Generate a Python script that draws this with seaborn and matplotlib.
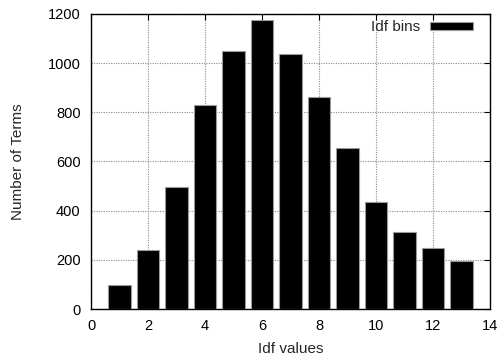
import matplotlib
matplotlib.use("Agg")
import matplotlib.pyplot as plt
import seaborn as sns
import pandas as pd

# Term counts per idf bin
idf_values = [1, 2, 3, 4, 5, 6, 7, 8, 9, 10, 11, 12, 13]
term_counts = [98, 239, 496, 829, 1049, 1176, 1037, 862, 655, 434, 312, 250, 194]
x_ticks = [0, 2, 4, 6, 8, 10, 12, 14]
y_ticks = [0, 200, 400, 600, 800, 1000, 1200]

df = pd.DataFrame({"idf": idf_values, "terms": term_counts})

sns.set_theme(style="white")
plt.rcParams["font.family"] = ["Liberation Sans", "DejaVu Sans"]

fig = plt.figure(figsize=(5.02, 3.56), dpi=100)
ax = fig.add_axes([0.1813, 0.132, 0.7948, 0.8287])

sns.barplot(data=df, x="idf", y="terms", native_scale=True, width=0.8,
            color="black", edgecolor="#9a9a9a", linewidth=0.8,
            saturation=1, label="Idf bins", ax=ax, zorder=3)

ax.set_xlim(0, 14)
ax.set_ylim(0, 1200)
ax.set_xticks(x_ticks)
ax.set_yticks(y_ticks)
ax.tick_params(axis="both", direction="in", length=4, width=0.8,
               top=True, right=True, labelsize=10.5, colors="black")
ax.tick_params(axis="x", pad=7)
ax.tick_params(axis="y", pad=7.5)
ax.grid(True, color="#8a8a8a", linestyle=(0, (1, 1.2)), linewidth=0.8, zorder=0)
ax.set_axisbelow(True)
for s in ax.spines.values():
    s.set_color("black")
    s.set_linewidth(1.0)

ax.set_xlabel("Idf values", fontsize=11, labelpad=7)
ax.set_ylabel("Number of Terms", fontsize=11, labelpad=16)

leg = ax.legend(loc="upper right", bbox_to_anchor=(0.957, 0.979),
                frameon=False, markerfirst=False,
                handlelength=2.8, handleheight=0.45, handletextpad=0.65,
                fontsize=11, borderpad=0, borderaxespad=0)

fig.savefig("out.png", dpi=100)
